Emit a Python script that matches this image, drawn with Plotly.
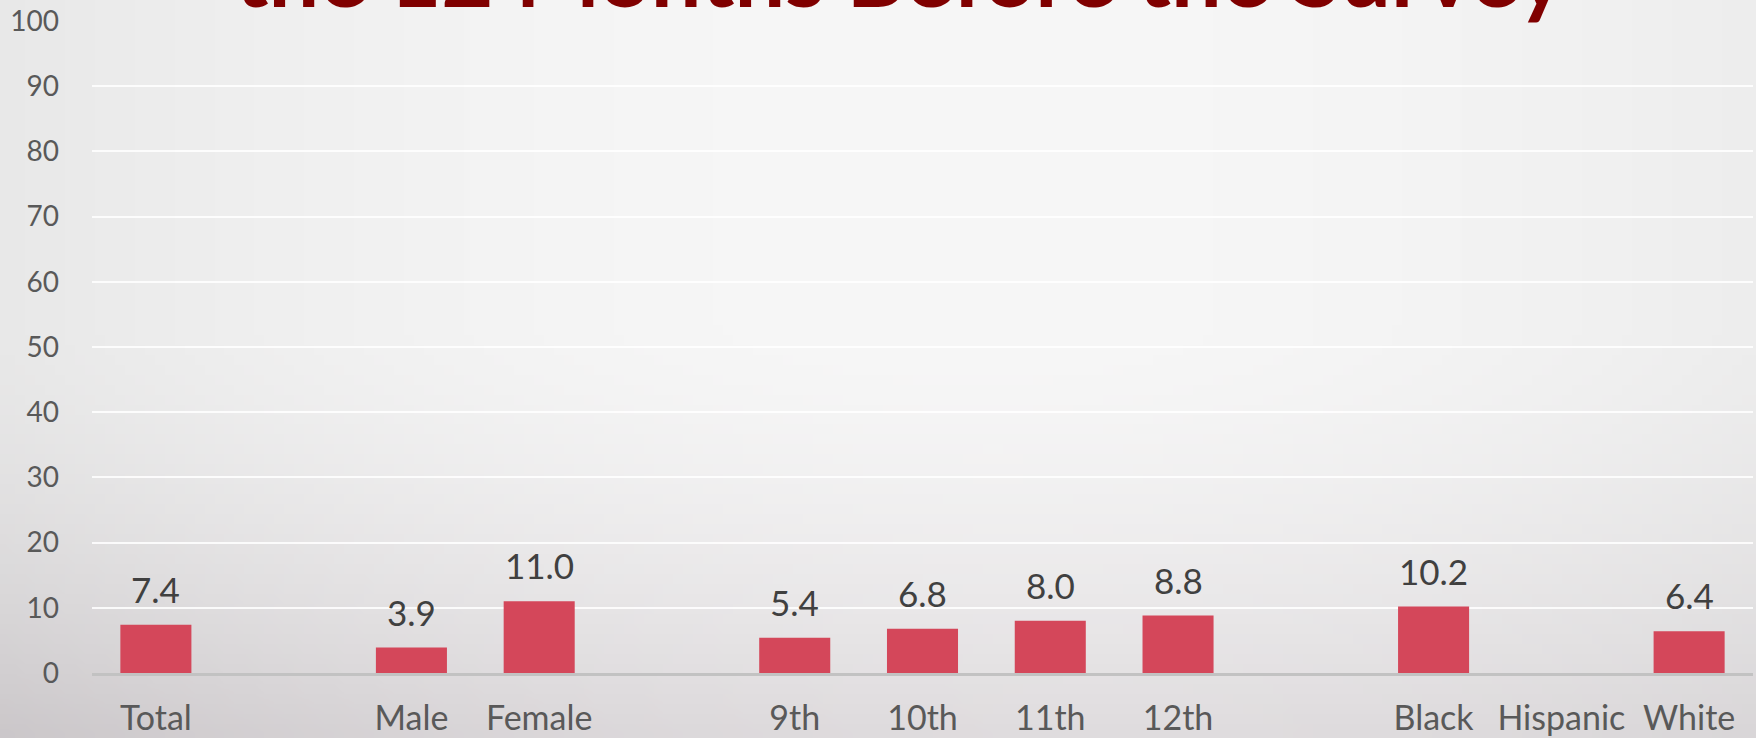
import base64
import struct
import zlib

import plotly.graph_objects as go

# ---- data ----
categories = ["Total", " ", "Male", "Female", "  ", "9th", "10th", "11th", "12th", "   ",
              "Black", "Hispanic", "White"]
values = [7.4, None, 3.9, 11.0, None, 5.4, 6.8, 8.0, 8.8, None, 10.2, None, 6.4]
y_ticks = [0, 10, 20, 30, 40, 50, 60, 70, 80, 90, 100]
title_text = "the 12 Months Before the Survey"

# ---- figure geometry ----
W, H = 1756, 738
ML, MR, MT, MB = 92, 3, 21, 65
PW = W - ML - MR
PH = H - MT - MB


# ---- soft gray background gradient as a generated PNG ----
def make_bg_png(w, h):
    raw = bytearray()
    for j in range(h):
        t = j / (h - 1)
        raw.append(0)
        for i in range(w):
            s = i / (w - 1)
            base = 247 - 12 * ((abs(s - 0.55) * 2) ** 2)
            d = 30 * (max(0.0, (t - 0.45) / 0.55) ** 1.6) * (1 - 0.3 * s)
            r = base - d + 1.5 * (d / 30)
            g = base - d - 2.5 * (d / 30)
            b = base - d
            raw += bytes([max(0, min(255, int(r))), max(0, min(255, int(g))), max(0, min(255, int(b)))])

    def chunk(tag, data):
        c = struct.pack(">I", len(data)) + tag + data
        return c + struct.pack(">I", zlib.crc32(tag + data) & 0xffffffff)

    png = b"\x89PNG\r\n\x1a\n"
    png += chunk(b"IHDR", struct.pack(">IIBBBBB", w, h, 8, 2, 0, 0, 0))
    png += chunk(b"IDAT", zlib.compress(bytes(raw), 9))
    png += chunk(b"IEND", b"")
    return "data:image/png;base64," + base64.b64encode(png).decode()


bg_src = make_bg_png(176, 74)

fig = go.Figure()
fig.add_trace(go.Bar(
    x=categories,
    y=values,
    marker=dict(color="#D4475A", line=dict(width=0)),
    hoverinfo="x+y",
))

annotations = []
for c, v in zip(categories, values):
    if v is None:
        continue
    annotations.append(dict(
        x=c, y=v, xref="x", yref="y", text=f"{v:.1f}", showarrow=False,
        yanchor="bottom", yshift=13,
        font=dict(family="Lato", size=35, color="#404040"),
    ))

annotations.append(dict(
    x=(900 - ML) / PW, y=1, xref="paper", yref="paper", text=title_text,
    showarrow=False, xanchor="center", yanchor="bottom", yshift=-7,
    font=dict(family="Lato", size=90, color="#800000", weight="bold"),
))

fig.update_layout(
    width=W, height=H,
    margin=dict(l=ML, r=MR, t=MT, b=MB, autoexpand=False),
    paper_bgcolor="#eeeeee",
    plot_bgcolor="rgba(0,0,0,0)",
    showlegend=False,
    bargap=0.444,
    annotations=annotations,
    images=[dict(
        source=bg_src, xref="paper", yref="paper",
        x=-ML / PW, y=1 + MT / PH, sizex=W / PW, sizey=H / PH,
        xanchor="left", yanchor="top", sizing="stretch", layer="below",
    )],
    xaxis=dict(
        type="category",
        categoryorder="array",
        categoryarray=categories,
        showgrid=False,
        showline=True, linecolor="#c2c2c2", linewidth=3,
        ticks="", ticklabelstandoff=13, automargin=False,
        tickfont=dict(family="Lato", size=34, color="#595959"),
        fixedrange=True,
    ),
    yaxis=dict(
        range=[0, 100],
        tickvals=y_ticks,
        showgrid=True, gridcolor="rgba(255,255,255,0.85)", gridwidth=2,
        zeroline=False, showline=False,
        ticks="", ticklabelstandoff=32, automargin=False,
        tickfont=dict(family="Lato", size=28, color="#595959"),
        fixedrange=True,
    ),
)

fig.write_html(
    "out.html",
    config={"displayModeBar": False},
    post_script="document.body.style.margin='0';document.body.style.overflow='hidden';",
)
